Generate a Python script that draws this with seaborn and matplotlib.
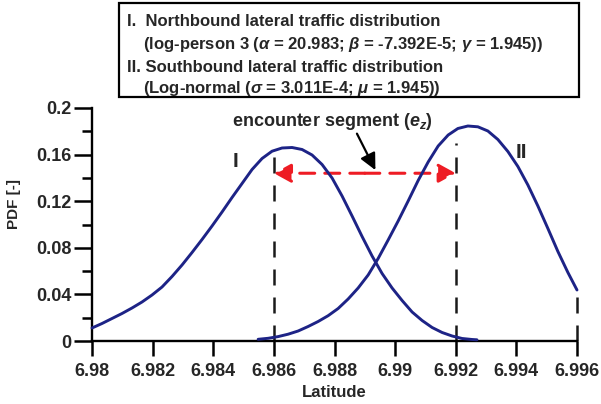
import matplotlib
matplotlib.use("Agg")
import matplotlib.pyplot as plt
import seaborn as sns
import pandas as pd
from matplotlib.patches import Rectangle
from matplotlib.ticker import MultipleLocator

# ---- data ----
lat_I = [6.98000, 6.98033, 6.98066, 6.98099, 6.98132, 6.98165, 6.98198, 6.98231,
         6.98264, 6.98297, 6.98330, 6.98363, 6.98396, 6.98429, 6.98462, 6.98495,
         6.98528, 6.98561, 6.98594, 6.98627, 6.98660, 6.98693, 6.98726, 6.98759,
         6.98792, 6.98825, 6.98858, 6.98891, 6.98924, 6.98957, 6.98990, 6.99023,
         6.99056, 6.99089, 6.99122, 6.99155, 6.99188, 6.99221, 6.99254, 6.99270]
pdf_I = [0.01116, 0.01502, 0.01931, 0.02361, 0.02833, 0.03348, 0.03948, 0.04635,
         0.05536, 0.06524, 0.07597, 0.08712, 0.09871, 0.11073, 0.12318, 0.13519,
         0.14721, 0.15665, 0.16292, 0.16567, 0.16609, 0.16438, 0.15966, 0.15150,
         0.13991, 0.12446, 0.10730, 0.08970, 0.07296, 0.05794, 0.04549, 0.03476,
         0.02489, 0.01760, 0.01159, 0.00730, 0.00429, 0.00215, 0.00129, 0.00103]

lat_II = [6.98548, 6.98581, 6.98614, 6.98647, 6.98680, 6.98713, 6.98746, 6.98779,
          6.98812, 6.98845, 6.98878, 6.98911, 6.98944, 6.98977, 6.99010, 6.99043,
          6.99076, 6.99109, 6.99142, 6.99175, 6.99207, 6.99240, 6.99273, 6.99306,
          6.99339, 6.99372, 6.99405, 6.99438, 6.99471, 6.99504, 6.99537, 6.99570,
          6.99600]
pdf_II = [0.00146, 0.00232, 0.00378, 0.00584, 0.00858, 0.01245, 0.01674, 0.02172,
          0.02790, 0.03605, 0.04549, 0.05665, 0.07082, 0.08670, 0.10300, 0.12017,
          0.13777, 0.15365, 0.16738, 0.17682, 0.18240, 0.18455, 0.18386, 0.18026,
          0.17296, 0.16266, 0.14979, 0.13391, 0.11588, 0.09657, 0.07682, 0.05880,
          0.04378]

x_ticks = [6.980, 6.982, 6.984, 6.986, 6.988, 6.990, 6.992, 6.994, 6.996]
x_tick_labels = ["6.98", "6.982", "6.984", "6.986", "6.988", "6.99", "6.992", "6.994", "6.996"]
y_ticks = [0, 0.04, 0.08, 0.12, 0.16, 0.2]
y_tick_labels = ["0", "0.04", "0.08", "0.12", "0.16", "0.2"]

guide_x = [6.986, 6.992, 6.996]
guide_top = [0.165, 0.170, 0.0438]
segment = [6.986, 6.992]
segment_level = 0.144

legend_lines = [
    "I.  Northbound lateral traffic distribution",
    r"(log-person 3 ($\alpha$ = 20.983; $\beta$ = -7.392E-5; $\gamma$ = 1.945))",
    "II. Southbound lateral traffic distribution",
    r"(Log-normal ($\sigma$ = 3.011E-4; $\mu$ = 1.945))",
]

# ---- style ----
sns.set_style("ticks")
plt.rcParams['font.family'] = ['Liberation Sans', 'DejaVu Sans']
plt.rcParams['font.weight'] = 'bold'
plt.rcParams['mathtext.fontset'] = 'custom'
plt.rcParams['mathtext.it'] = 'Liberation Sans:italic:bold'
plt.rcParams['mathtext.rm'] = 'Liberation Sans:bold'
plt.rcParams['mathtext.bf'] = 'Liberation Sans:bold'

navy = "#1d2386"
red = "#ee1c24"

W, H = 601, 404
fig = plt.figure(figsize=(W / 100, H / 100), dpi=100)
ax = fig.add_axes([92 / W, 1 - 341 / H, (577 - 92) / W, (341 - 108) / H])

df_I = pd.DataFrame({"Latitude": lat_I, "PDF": pdf_I})
df_II = pd.DataFrame({"Latitude": lat_II, "PDF": pdf_II})
sns.lineplot(data=df_I, x="Latitude", y="PDF", ax=ax, color=navy, lw=2.1,
             sort=False, clip_on=False, zorder=4)
sns.lineplot(data=df_II, x="Latitude", y="PDF", ax=ax, color=navy, lw=2.1,
             sort=False, clip_on=False, zorder=4)

for gx, gt in zip(guide_x, guide_top):
    ax.plot([gx, gx], [0, gt], color="#1a1a1a", lw=1.8, linestyle=(0, (6.4, 4.8)),
            solid_capstyle="butt", zorder=2, clip_on=False)

# red double-headed dashed arrow
mid = (segment[0] + segment[1]) / 2
for end in segment:
    ax.annotate("", xy=(end, segment_level), xytext=(mid, segment_level),
                arrowprops=dict(arrowstyle="-|>,head_length=0.4,head_width=0.22",
                                mutation_scale=26, color=red, lw=2.2,
                                linestyle=(0, (4.9, 3.3)), shrinkA=0, shrinkB=0),
                zorder=3)

# black pointer arrow
ax.annotate("", xy=(6.98935, 0.1467), xytext=(6.98874, 0.178),
            arrowprops=dict(arrowstyle="-|>,head_length=0.45,head_width=0.22",
                            mutation_scale=22, color="black", lw=1.6,
                            shrinkA=0, shrinkB=0), zorder=3)

ax.text(6.98792, 0.188, r"encounter segment ($e_z$)", ha="center", va="center",
        fontsize=13, fontweight="bold")
ax.text(6.98472, 0.154, "I", ha="center", va="center", fontsize=15, fontweight="bold")
ax.text(6.99418, 0.162, "II", ha="center", va="center", fontsize=15, fontweight="bold")

ax.set_xlim(x_ticks[0], x_ticks[-1])
ax.set_ylim(y_ticks[0], y_ticks[-1])
ax.set_xticks(x_ticks)
ax.set_xticklabels(x_tick_labels)
ax.set_yticks(y_ticks)
ax.set_yticklabels(y_tick_labels)
ax.yaxis.set_minor_locator(MultipleLocator(0.02))
ax.tick_params(axis="x", length=10.5, width=1.8, labelsize=13, pad=5, color="black")
ax.tick_params(axis="y", which="major", length=13, width=1.8, labelsize=13, pad=1.5, color="black")
ax.tick_params(axis="y", which="minor", length=7, width=1.8, color="black")
for lab in ax.get_xticklabels() + ax.get_yticklabels():
    lab.set_fontweight("bold")

sns.despine(ax=ax)
for s in ["left", "bottom"]:
    ax.spines[s].set_linewidth(1.7)
    ax.spines[s].set_color("black")

ax.set_xlabel("Latitude", fontsize=12, fontweight="bold")
ax.xaxis.set_label_coords((92 + 577) / 2 / W, 1 - 385 / H, transform=fig.transFigure)
ax.set_ylabel("PDF [-]", fontsize=11, fontweight="bold")
ax.yaxis.set_label_coords(21 / W, 1 - 204 / H, transform=fig.transFigure)

# legend box
fig.patches.append(Rectangle((119 / W, 1 - 97 / H), (579 - 119) / W, (97 - 3) / H,
                             transform=fig.transFigure, fill=False, lw=1.6,
                             edgecolor="black"))
line_x = [127, 143, 127, 143]
line_y = [22, 45, 67, 88]
for txt, lx, ly in zip(legend_lines, line_x, line_y):
    fig.text(lx / W, 1 - ly / H, txt, ha="left", va="center", fontsize=12,
             fontweight="bold")

fig.savefig("out.png", dpi=100)
